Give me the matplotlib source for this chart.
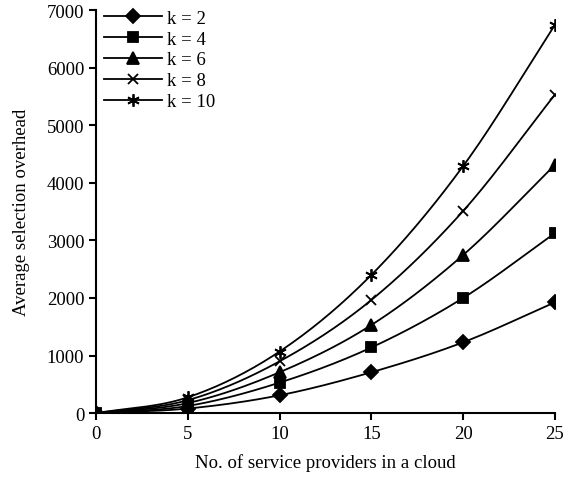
import numpy as np
import matplotlib
matplotlib.use('Agg')
import matplotlib.pyplot as plt

plt.rcParams['font.family'] = 'Liberation Serif'

# Data
providers = [0, 5, 10, 15, 20, 25]
overhead = {
    'k = 2': [0, 80, 310, 710, 1230, 1925],
    'k = 4': [0, 125, 530, 1140, 2000, 3125],
    'k = 6': [0, 175, 710, 1530, 2745, 4310],
    'k = 8': [0, 225, 900, 1965, 3510, 5530],
    'k = 10': [0, 275, 1070, 2400, 4290, 6740],
}
markers = ['D', 's', '^', 'x', (6, 2, 0)]
msizes = [7, 7, 8, 7, 9]


def catmull_rom(x, y, n=30):
    # smooth line through the points, like spreadsheet "smoothed line"
    x = np.asarray(x, float)
    y = np.asarray(y, float)
    px = np.concatenate([[2 * x[0] - x[1]], x, [2 * x[-1] - x[-2]]])
    py = np.concatenate([[2 * y[0] - y[1]], y, [2 * y[-1] - y[-2]]])
    xs, ys = [], []
    t = np.linspace(0, 1, n)
    for i in range(1, len(px) - 2):
        for p, out in ((px, xs), (py, ys)):
            p0, p1, p2, p3 = p[i - 1], p[i], p[i + 1], p[i + 2]
            out.append(0.5 * (2 * p1 + (-p0 + p2) * t
                              + (2 * p0 - 5 * p1 + 4 * p2 - p3) * t ** 2
                              + (-p0 + 3 * p1 - 3 * p2 + p3) * t ** 3))
    return np.concatenate(xs), np.concatenate(ys)


fig = plt.figure(figsize=(5.75, 4.81), dpi=100)
ax = fig.add_axes([0.167, 0.139, 0.798, 0.838])

for (label, vals), m, ms in zip(overhead.items(), markers, msizes):
    sx, sy = catmull_rom(providers, vals)
    ax.plot(sx, sy, color='black', lw=1.3)
    ax.plot(providers, vals, linestyle='none', marker=m, ms=ms,
            color='black', mew=1.3)
    ax.plot([], [], color='black', lw=1.3, marker=m, ms=ms, mew=1.3,
            label=label)

ax.set_xlim(0, 25)
ax.set_ylim(0, 7000)
ax.set_xticks(range(0, 26, 5))
ax.set_yticks(range(0, 7001, 1000))
ax.spines['top'].set_visible(False)
ax.spines['right'].set_visible(False)
ax.spines['left'].set_linewidth(1.5)
ax.spines['bottom'].set_linewidth(1.5)
ax.tick_params(labelsize=13.5, width=1.5, length=5, direction='out')
ax.set_xlabel('No. of service providers in a cloud', fontsize=13.5,
              labelpad=8)
ax.set_ylabel('Average selection overhead', fontsize=13.5, labelpad=12)

ax.legend(loc='upper left', frameon=False, fontsize=13.5, handlelength=3.1,
          labelspacing=0.2, borderaxespad=0.0, handletextpad=0.3,
          bbox_to_anchor=(0.0, 1.02))

fig.savefig('out.png', dpi=100)
